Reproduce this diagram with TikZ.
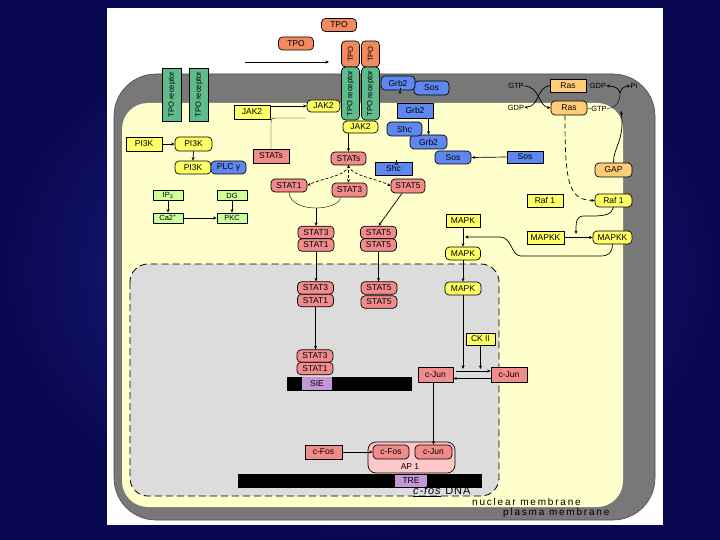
\documentclass[tikz,border=0pt]{standalone}
\usepackage{fontspec}
\setmainfont{Liberation Sans}
\newfontfamily\spacedfont[LetterSpace=18]{Liberation Sans}
\newfontfamily\dnafont[LetterSpace=8]{Liberation Sans}
\usetikzlibrary{arrows.meta,calc}
\definecolor{bgin}{RGB}{40,40,160}
\definecolor{bgout}{RGB}{8,8,80}
\definecolor{memb}{RGB}{120,120,120}
\definecolor{cyto}{RGB}{255,255,204}
\definecolor{nucl}{RGB}{220,220,220}
\definecolor{cTPO}{RGB}{242,138,95}
\definecolor{cRec}{RGB}{95,186,140}
\definecolor{cYel}{RGB}{255,255,102}
\definecolor{cBlue}{RGB}{95,135,240}
\definecolor{cPink}{RGB}{242,140,140}
\definecolor{cRas}{RGB}{255,204,120}
\definecolor{cGrn}{RGB}{204,255,153}
\definecolor{cPur}{RGB}{195,150,215}
\definecolor{cAP}{RGB}{255,200,200}
\begin{document}
\begin{tikzpicture}[x=1pt,y=-1pt,
 base/.style={draw=black,line width=0.7pt,inner sep=0pt,font=\fontsize{8.5}{9}\selectfont},
 rbox/.style={base,rounded corners=4pt},
 sbox/.style={base},
 sz/.style 2 args={minimum width=#1pt,minimum height=#2pt},
 recfont/.style={font=\fontsize{7.6}{8}\selectfont},
 smallfont/.style={font=\fontsize{7.5}{8}\selectfont},
 arr/.style={-{Stealth[length=3.5pt,width=3pt]},line width=0.7pt},
 lab/.style={font=\fontsize{7.5}{8}\selectfont,inner sep=0pt},
 dsh/.style={dash pattern=on 3pt off 2pt},
 bigtext/.style={font=\fontsize{10}{11}\selectfont\spacedfont,inner sep=0pt,anchor=west},
]
\useasboundingbox (0,0) rectangle (720,540);
% background
\shade[inner color=bgin,outer color=bgout] (0,0) rectangle (720,540);
\fill[white] (107,8) rectangle (663,525);
% membranes and nucleus
\draw[draw=black!70,fill=memb,rounded corners=42pt,line width=0.6pt] (114,74) rectangle (655,520);
\fill[cyto,rounded corners=26pt] (122,103) rectangle (623,507);
\draw[fill=nucl,rounded corners=18pt,dash pattern=on 7pt off 4pt,line width=0.8pt] (130,264) rectangle (499,496);

% TPO
\node[rbox,fill=cTPO,sz={35}{13}] (tpoA) at (339,25) {TPO};
\node[rbox,fill=cTPO,sz={35}{13}] (tpoB) at (296,43.5) {TPO};
\coordinate (tpoS) at (245,62);
\coordinate (tpoE) at (329,62);
\draw[arr] (tpoS) -- (tpoE);

% receptors
\node[sbox,fill=cRec,rotate=90,sz={53}{19},recfont] (recA) at (172,94.5) {TPO receptor};
\node[sbox,fill=cRec,rotate=90,sz={53}{19},recfont] (recB) at (199,94.5) {TPO receptor};
\node[rbox,fill=cTPO,rotate=90,sz={26}{18},recfont] (capA) at (350.5,54) {TPO};
\node[rbox,fill=cTPO,rotate=90,sz={26}{18},recfont] (capB) at (370.5,54) {TPO};
\node[rbox,fill=cRec,rotate=90,sz={53}{18},recfont] (recC) at (350.5,93.5) {TPO receptor};
\node[rbox,fill=cRec,rotate=90,sz={53}{18},recfont] (recD) at (370.5,93.5) {TPO receptor};

% JAK2
\node[sbox,fill=cYel,sz={36}{14}] (jakA) at (252,112) {JAK2};
\node[rbox,fill=cYel,sz={33}{12}] (jakB) at (323.5,106) {JAK2};
\node[rbox,fill=cYel,sz={35}{12}] (jakC) at (360.5,127) {JAK2};
\draw[arr] (jakA.east |- jakB.west) -- (jakB.west);

% Grb2 / Sos / Shc
\node[rbox,fill=cBlue,sz={35}{14}] (sosA) at (431.5,88) {Sos};
\node[rbox,fill=cBlue,sz={34}{14}] (grbA) at (398,83) {Grb2};
\node[sbox,fill=cBlue,sz={36}{15}] (grbB) at (415,110.5) {Grb2};
\node[rbox,fill=cBlue,sz={37}{14}] (grbC) at (428.5,142) {Grb2};
\node[rbox,fill=cBlue,sz={35}{14}] (shcA) at (404.5,129) {Shc};
\node[rbox,fill=cBlue,sz={36}{13}] (sosB) at (453,157.5) {Sos};
\node[sbox,fill=cBlue,sz={36}{12}] (sosC) at (525,157) {Sos};
\node[sbox,fill=cBlue,sz={37}{13}] (shcB) at (393.5,168.5) {Shc};
\draw[arr] ($(grbA.south)+(2,0)$ |- grbB.north) -- ($(grbA.south)+(2,0)$);
\draw[arr] (grbB.south -| grbC.north) -- (grbC.north);
\draw[arr] (sosC.west) -- (sosB.east);
\draw[arr] ($(shcB.north)+(3,0)$) -- ($(shcB.north)+(3,0)$ |- shcA.south);

% Ras
\node[sbox,fill=cRas,sz={36}{13}] (rasA) at (568,85.5) {Ras};
\node[rbox,fill=cRas,sz={36}{14}] (rasB) at (569,108) {Ras};
\node[rbox,fill=cRas,sz={37}{14}] (gap) at (613.5,170) {GAP};
\node[lab] (gtpL) at (516,86) {GTP};
\node[lab] (gdpL) at (516,107.5) {GDP};
\node[lab] (gdpR) at (598,86) {GDP};
\node[lab] (piR) at (634,86) {Pi};
\node[lab] (gtpR) at (599,108.5) {GTP};
\draw[arr] (gtpL.east) .. controls (540,86) and (538,106) .. (rasB.west);
\draw[arr] (rasA.west) .. controls (536,88) and (540,106) .. (gdpL.east);
\draw (rasB.east) -- (gtpR.west);
\coordinate (hub) at (620,93);
\draw (gtpR.east) .. controls (616,108) and (620,102) .. (hub);
\draw[arr] (hub) .. controls (619,88) and (614,86) .. (gdpR.east);
\draw[arr] (hub) .. controls (621,88) and (625,86) .. (piR.west);
\draw[arr] (gap.north) .. controls (613,148) and (625,140) .. (621,111);

% Raf / MAPKK / MAPK
\node[sbox,fill=cYel,sz={36}{13}] (rafA) at (545,200.5) {Raf 1};
\node[rbox,fill=cYel,sz={37}{13}] (rafB) at (613.5,200.5) {Raf 1};
\node[sbox,fill=cYel,sz={37}{13}] (mkkA) at (545.5,237.5) {MAPKK};
\node[rbox,fill=cYel,sz={39}{13}] (mkkB) at (612.5,237.5) {MAPKK};
\node[sbox,fill=cYel,sz={34}{13}] (mapkA) at (463,220.5) {MAPK};
\node[rbox,fill=cYel,sz={35}{13}] (mapkB) at (463,253.5) {MAPK};
\node[rbox,fill=cYel,sz={36}{13}] (mapkC) at (463,288.5) {MAPK};
\node[sbox,fill=cYel,sz={29}{12}] (ckii) at (480.5,339) {CK II};
\draw[arr,dash pattern=on 5pt off 3pt] ($(rasB.south)+(-4,0)$) .. controls (565,182) and (568,200) .. (rafB.west);
\coordinate (mkkL) at (576,234);
\draw[arr] (rafB.south) .. controls (612,214) and (606,216) .. (592,216) -- (584,216) .. controls (576,216) and (576,222) .. (mkkL);
\draw[arr] (mkkA.east) -- (mkkB.west);
\coordinate (mk) at (465,237);
\draw[arr] (mkkB.south) .. controls (612,253) and (609,256) .. (600,256) -- (521,256) .. controls (511,256) and (512,237) .. (500,237) -- (mk);
\draw[arr] (mapkA.south) -- (mapkB.north);
\draw[arr] (mapkB.south) -- (mapkC.north);

% c-Jun
\node[sbox,fill=cPink,sz={36}{15}] (cjunR) at (509,374.5) {c-Jun};
\node[sbox,fill=cPink,sz={35}{15}] (cjunL) at (435.5,374.5) {c-Jun};
\coordinate (jv) at (0,369);
\coordinate (jl) at (456,371);
\coordinate (jl2) at (0,378.5);
\draw[arr] (mapkC.south) -- (mapkC.south |- jv);
\draw[arr] (ckii.south) -- (ckii.south |- jv);
\draw[arr] (jl) -- (jl -| cjunR.west);
\draw[arr] (cjunR.west |- jl2) -- (cjunL.east |- jl2);

% PI3K branch
\node[sbox,fill=cYel,sz={36}{14}] (piA) at (144,144) {PI3K};
\node[rbox,fill=cYel,sz={37}{14}] (piB) at (193.5,144) {PI3K};
\node[rbox,fill=cYel,sz={36}{13}] (piC) at (193,167.5) {PI3K};
\node[rbox,fill=cBlue,sz={35}{13}] (plc) at (228.5,167.5) {PLC γ};
\node[sbox,fill=cGrn,sz={30}{10},smallfont] (ip3) at (168,195.5) {IP\textsubscript{3}};
\node[sbox,fill=cGrn,sz={30}{10},smallfont] (ca) at (168,218) {Ca2\textsuperscript{+}};
\node[sbox,fill=cGrn,sz={30}{10},smallfont] (dg) at (232,195.5) {DG};
\node[sbox,fill=cGrn,sz={30}{10},smallfont] (pkc) at (232,218) {PKC};
\draw[arr] (piA.east) -- (piB.west);
\draw[arr] (piB.south) -- (piC.north);
\draw[arr] (ip3.south) -- (ca.north);
\draw[arr] (dg.south) -- (pkc.north);
\draw[arr] (ca.east) -- (pkc.west);

% STATs
\node[sbox,fill=cPink,sz={36}{14}] (statsA) at (271,156) {STATs};
\node[rbox,fill=cPink,sz={35}{13}] (statsB) at (348.5,158.5) {STATs};
\node[rbox,fill=cPink,sz={36}{13}] (st1) at (289,185.5) {STAT1};
\node[rbox,fill=cPink,sz={35}{14}] (st3) at (349.5,190) {STAT3};
\node[rbox,fill=cPink,sz={34}{14}] (st5) at (408,186) {STAT5};
\coordinate (stE) at (306,118);
\draw (statsA.north) -- (271,125) .. controls (271,118) .. (278,118) -- (stE);
\draw[arr] (statsB.north |- jakC.south) -- (statsB.north);
\draw[arr,dsh] (statsB.south) .. controls (348,176) and (322,178) .. (st1.east);
\draw[arr,dsh] (statsB.south) -- (statsB.south |- st3.north);
\draw[arr,dsh] (statsB.south) .. controls (350,176) and (376,178) .. (st5.west);

\node[rbox,fill=cPink,sz={36}{12.5}] (dA1) at (316,232.5) {STAT3};
\node[rbox,fill=cPink,sz={36}{12.5}] (dA2) at (316,245) {STAT1};
\node[rbox,fill=cPink,sz={36}{12.5}] (dB1) at (378.5,232.5) {STAT5};
\node[rbox,fill=cPink,sz={36}{12.5}] (dB2) at (378.5,245) {STAT5};
\node[rbox,fill=cPink,sz={36}{12.5}] (dC1) at (315.5,288) {STAT3};
\node[rbox,fill=cPink,sz={36}{12.5}] (dC2) at (315.5,300.5) {STAT1};
\node[rbox,fill=cPink,sz={36}{12.5}] (dD1) at (379,288) {STAT5};
\node[rbox,fill=cPink,sz={36}{12.5}] (dD2) at (379,302) {STAT5};
\node[rbox,fill=cPink,sz={36}{12.5}] (dE1) at (315,356) {STAT3};
\node[rbox,fill=cPink,sz={36}{12.5}] (dE2) at (315,368.5) {STAT1};
\coordinate (mA) at (316,208);
\draw (st1.south) .. controls (290,204) and (304,208) .. (mA);
\draw ($(st3.south)+(-9,0)$) .. controls (340,204) and (328,208) .. (mA);
\draw[arr] (mA) -- (dA1.north);
\draw[arr] ($(st5.south)+(-6,0)$) -- (dB1.north);
\draw[arr] (dA2.south) -- (dA2.south |- dC1.north);
\draw[arr] (dB2.south) -- (dB2.south |- dD1.north);
\draw[arr] (dC2.south) -- (dC2.south |- dE1.north);

% SIE
\fill[black] (287,377) rectangle (412,391);
\node[inner sep=0pt,fill=cPur,sz={30}{13},font=\fontsize{8.5}{9}\selectfont] (sie) at (317,383.5) {SIE};

% AP1 and DNA
\node[sbox,fill=cPink,sz={37}{14}] (cfosA) at (323.5,452) {c-Fos};
\node[base,rounded corners=8pt,fill=cAP,sz={87}{31}] (ap1) at (411.5,457.5) {};
\node[lab,font=\fontsize{8.5}{9}\selectfont] (ap1l) at (410,467) {AP 1};
\node[rbox,fill=cPink,sz={36}{14}] (cfosB) at (391,452) {c-Fos};
\node[rbox,fill=cPink,sz={37}{14}] (cjunB) at (433.5,452) {c-Jun};
\draw[arr] (cfosA.east) -- (cfosB.west);
\draw[arr] (cjunB.north |- cjunL.south) -- (cjunB.north);
\fill[black] (238,474) rectangle (482,488);
\node[inner sep=0pt,fill=cPur,sz={32}{12},font=\fontsize{8.5}{9}\selectfont] (tre) at (411,481) {TRE};

% labels
\node[font=\fontsize{11}{12}\selectfont\dnafont,inner sep=0pt,anchor=west] (dna) at (413,492) {\underline{\textit{c-fos}} DNA};
\node[bigtext] (nm) at (472,502) {nuclear membrane};
\node[bigtext] (pm) at (503,513) {plasma membrane};
\end{tikzpicture}
\end{document}
